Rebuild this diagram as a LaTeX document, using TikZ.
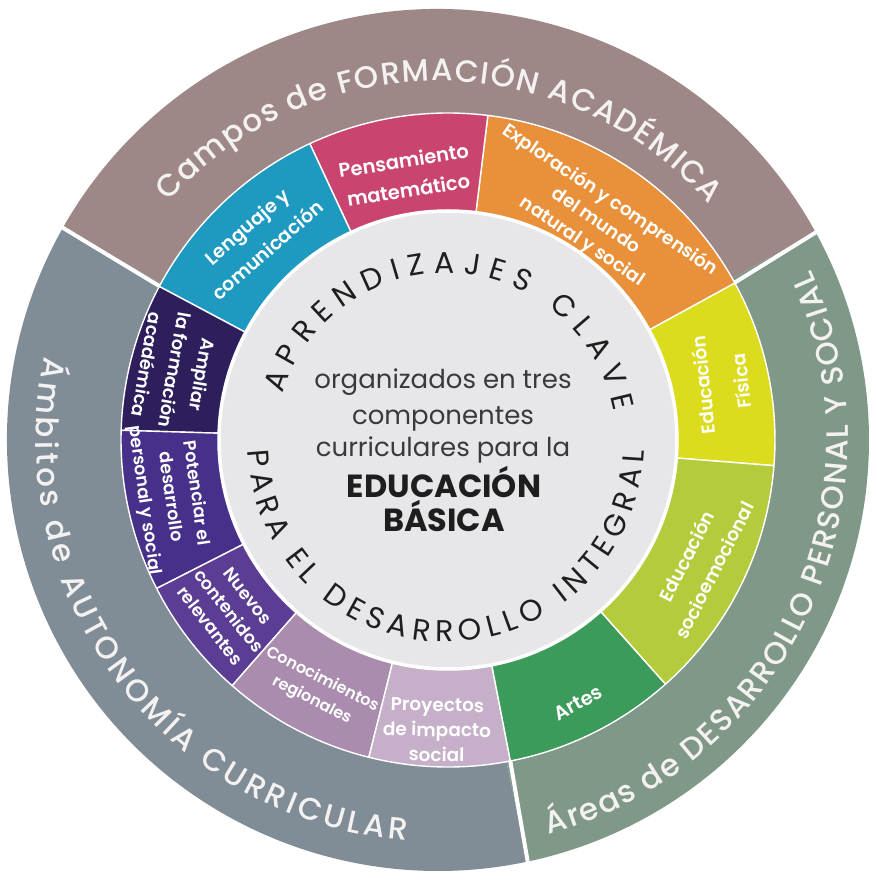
\documentclass[tikz,border=0pt]{standalone}
\usepackage{fontspec}
\setmainfont{Poppins}
\newfontfamily\medfont{Poppins Medium}
\newfontfamily\semifont{Poppins SemiBold}
\usetikzlibrary{decorations.text}

% ring colours
\definecolor{campos}{HTML}{9E8787}
\definecolor{ambitos}{HTML}{808C96}
\definecolor{areas}{HTML}{809887}
\definecolor{lenguaje}{HTML}{1E9AC0}
\definecolor{pensa}{HTML}{C9456F}
\definecolor{explora}{HTML}{E8913A}
\definecolor{fisica}{HTML}{DCDC1E}
\definecolor{socio}{HTML}{B4CC3C}
\definecolor{artes}{HTML}{3C9B5A}
\definecolor{proyectos}{HTML}{C6AFC9}
\definecolor{conoc}{HTML}{A98CAE}
\definecolor{nuevos}{HTML}{5B3E94}
\definecolor{potenciar}{HTML}{47308A}
\definecolor{ampliar}{HTML}{2E1F5C}
\definecolor{core}{HTML}{E7E7EA}
\definecolor{ringtext}{HTML}{F4F1F1}
\definecolor{inktext}{HTML}{1E1E1E}
\definecolor{bodytext}{HTML}{3A3A3A}

% annular sector of the middle ring, centred on (10,0)
\newcommand\ringseg[3]{%
  \filldraw[midseg, fill=#1]
    ([shift={(10,0)}]#2:229) arc[start angle=#2, end angle=#3, radius=229]
    -- ([shift={(10,0)}]#3:327) arc[start angle=#3, end angle=#2, radius=327]
    -- cycle;}

\tikzset{
  midseg/.style={draw=white, line width=1.4pt, line join=round},
  outersep/.style={draw=white, line width=4pt},
  seglabel/.style={text=white, align=center, inner sep=0pt},
  lsize/.style 2 args={font=\semifont\fontsize{#1}{#2}\selectfont},
  coreline/.style={anchor=base, inner sep=0pt, text=bodytext,
    font=\fontsize{26}{30}\selectfont},
  corebold/.style={anchor=base, inner sep=0pt, text=inktext,
    font=\bfseries\fontsize{32}{34}\selectfont},
  ringtitle/.style={decorate, decoration={text along path, text align={fit to path},
    text={|\medfont\fontsize{31}{31}\selectfont\color{ringtext}|#1}}},
  coretitle/.style={decorate, decoration={text along path, text align={fit to path},
    text={|\fontsize{30}{30}\selectfont\color{inktext}|#1}}},
}

\begin{document}
\begin{tikzpicture}[x=1pt, y=1pt]
\useasboundingbox (-438,-440) rectangle (438,440);
\fill[white] (-438,-440) rectangle (438,440);

\coordinate (C1) at (0,0);
\coordinate (C2) at (10,0);

% outer ring: three fields
\fill[campos]  (C1) -- (28.8:431) arc[start angle=28.8, end angle=150.5, radius=431] -- cycle;
\fill[ambitos] (C1) -- (150.5:431) arc[start angle=150.5, end angle=282, radius=431] -- cycle;
\fill[areas]   (C1) -- (282:431) arc[start angle=282, end angle=388.8, radius=431] -- cycle;

\draw[outersep] (150.5:433) -- ([shift={(10,0)}]152:320);
\draw[outersep] (28.8:433) -- ([shift={(10,0)}]28.7:320);
\draw[outersep] (282:433) -- ([shift={(10,0)}]281:320);

% middle ring
\ringseg{fisica}{-4.5}{28.7}
\ringseg{explora}{28.7}{83}
\ringseg{pensa}{83}{115}
\ringseg{lenguaje}{115}{152}
\ringseg{ampliar}{152}{178.3}
\ringseg{potenciar}{178.3}{207}
\ringseg{nuevos}{207}{228.7}
\ringseg{conoc}{228.7}{256}
\ringseg{proyectos}{256}{281}
\ringseg{artes}{281}{311.7}
\ringseg{socio}{311.7}{355.5}

% core disc
\filldraw[fill=core, draw=white, line width=3.5pt] (C2) circle[radius=229];

% outer ring titles
\path[ringtitle={Campos de FORMACIÓN ACADÉMICA}]
  (138.5:359) arc[start angle=138.5, end angle=40.9, radius=359];
\path[ringtitle={Ámbitos de AUTONOMÍA CURRICULAR}]
  (168:402) arc[start angle=168, end angle=265.5, radius=402];
\path[ringtitle={Áreas de DESARROLLO PERSONAL Y SOCIAL}]
  (-74.3:410) arc[start angle=-74.3, end angle=24.5, radius=410];

% middle ring labels
\node[seglabel, lsize={19}{31}, rotate=41]     (lenguajeL)  at (-181,202) {Lenguaje y\\comunicación};
\node[seglabel, lsize={19.5}{30}, rotate=9]    (pensaL)     at (-32,265)  {Pensamiento\\matemático};
\node[seglabel, lsize={18.5}{25}, rotate=-34]  (exploraL)   at (158,219)  {Exploración y comprensión\\del mundo\\natural y social};
\node[seglabel, lsize={18.5}{38}, rotate=96]   (fisicaL)    at (284,57)   {Educación\\Física};
\node[seglabel, lsize={18.5}{31}, rotate=63]   (socioL)     at (262,-123) {Educación\\socioemocional};
\node[seglabel, lsize={19.5}{25}, rotate=28]   (artesL)     at (140,-263) {Artes};
\node[seglabel, lsize={18.5}{25}, rotate=-1]   (proyectosL) at (-1,-290)  {Proyectos\\de impacto\\social};
\node[seglabel, lsize={16}{23}, rotate=-27]    (conocL)     at (-121,-250){Conocimientos\\regionales};
\node[seglabel, lsize={17.5}{24}, rotate=-52]  (nuevosL)    at (-209,-171){Nuevos\\contenidos\\relevantes};
\node[seglabel, lsize={17.5}{26}, rotate=-82]  (potenciarL) at (-268,-57) {Potenciar el\\desarrollo\\personal y social};
\node[seglabel, lsize={18}{28}, rotate=-100]   (ampliarL)   at (-263,70)  {Ampliar\\la formación\\académica};

% core: curved titles
\begin{scope}[shift={(8,-4)}]
\path[coretitle={APRENDIZAJES CLAVE}]
  (163:171) arc[start angle=163, end angle=11, radius=171];
\path[coretitle={PARA EL DESARROLLO INTEGRAL}]
  (182:198) arc[start angle=182, end angle=358, radius=198];
\end{scope}

% core: centred statement
\node[coreline]  (core1) at (5,51)  {organizados en tres};
\node[coreline]  (core2) at (5,15)  {componentes};
\node[coreline]  (core3) at (5,-17) {curriculares para la};
\node[corebold]  (core4) at (6,-57) {EDUCACIÓN};
\node[corebold]  (core5) at (6,-92) {BÁSICA};
\end{tikzpicture}
\end{document}
